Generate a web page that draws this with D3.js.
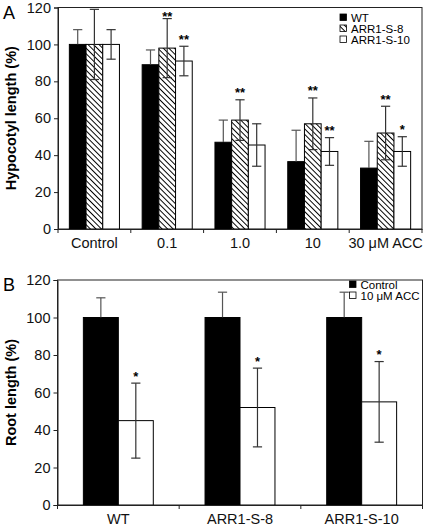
<!DOCTYPE html>
<html><head><meta charset="utf-8">
<script src="https://cdn.jsdelivr.net/npm/d3@7"></script>
<style>
html,body{margin:0;padding:0;background:#fff;}
svg{display:block;font-family:"Liberation Sans",Arial,sans-serif;}
</style></head>
<body>
<svg id="chart" width="427" height="526"></svg>
<script>
// ---- Panel A data ----
const catsA = ["Control", "0.1", "1.0", "10", "30 μM ACC"];
const seriesA = ["WT", "ARR1-S-8", "ARR1-S-10"];
const wtA   = [100, 89, 47, 36.5, 33];
const s8A   = [100, 98, 59, 57, 52];
const s10A  = [100, 91, 45.5, 42, 42];
const wtErrA  = [8, 8, 12, 17, 14.5];
const s8ErrA  = [19, 16, 11, 14, 14.5];
const s10ErrA = [8, 8, 11.5, 7.5, 8];
const wtSigA  = ["", "", "", "", ""];
const s8SigA  = ["", "**", "**", "**", "**"];
const s10SigA = ["", "**", "", "**", "*"];
const yTicks = [0, 20, 40, 60, 80, 100, 120];

// ---- Panel B data ----
const catsB = ["WT", "ARR1-S-8", "ARR1-S-10"];
const seriesB = ["Control", "10 μM ACC"];
const ctrlB = [100, 100, 100];
const accB  = [45, 52, 55];
const ctrlErrB = [10.5, 13.5, 13.5];
const accErrB  = [20, 21, 21.5];
const accSigB  = ["*", "*", "*"];

const svg = d3.select("#chart");
const defs = svg.append("defs");
const pat = defs.append("pattern").attr("id","hatch").attr("patternUnits","userSpaceOnUse")
  .attr("width",3.9).attr("height",3.9).attr("patternTransform","rotate(45)");
pat.append("rect").attr("width",3.9).attr("height",3.9).attr("fill","#fff");
pat.append("line").attr("x1",0).attr("y1",0.5).attr("x2",3.9).attr("y2",0.5)
  .attr("stroke","#000").attr("stroke-width",1);

const fills = {"WT":"#000","ARR1-S-8":"url(#hatch)","ARR1-S-10":"#fff","Control":"#000","10 μM ACC":"#fff"};
const errColor = "#555";

function panel(opts){
  const {left,right,top,bottom,cats,series,vals,errs,sigs,outerPad,ytitle,letter,legendX,legendY,legendGap} = opts;
  const g = svg.append("g");
  const y = d3.scaleLinear().domain([0,120]).range([bottom,top]);
  const x0 = d3.scaleBand().domain(cats).range([left,right]).padding(0);
  const x1 = d3.scaleBand().domain(series).range([0,x0.bandwidth()]).paddingInner(0).paddingOuter(outerPad);

  // frame
  g.append("rect").attr("x",left).attr("y",top).attr("width",right-left).attr("height",bottom-top)
    .attr("fill","none").attr("stroke","#222").attr("stroke-width",1);

  // bars
  series.forEach((s,si)=>{
    cats.forEach((c,ci)=>{
      const v = vals[si][ci];
      g.append("rect").attr("x",x0(c)+x1(s)).attr("y",y(v))
        .attr("width",x1.bandwidth()).attr("height",y(0)-y(v))
        .attr("fill",fills[s]).attr("stroke","#000").attr("stroke-width",1);
    });
  });
  // error bars + stars
  series.forEach((s,si)=>{
    cats.forEach((c,ci)=>{
      const v = vals[si][ci], e = errs[si][ci];
      const cx = x0(c)+x1(s)+x1.bandwidth()/2;
      const dark = fills[s]==="#000";
      const col = dark ? errColor : "#333";
      // upper half
      g.append("line").attr("x1",cx).attr("x2",cx).attr("y1",y(v+e)).attr("y2",y(v))
        .attr("stroke",col).attr("stroke-width",1.2);
      g.append("line").attr("x1",cx-4.6).attr("x2",cx+4.6).attr("y1",y(v+e)).attr("y2",y(v+e))
        .attr("stroke",col).attr("stroke-width",1.2);
      // lower half (invisible on black bars)
      const lc = dark ? "#000" : col;
      g.append("line").attr("x1",cx).attr("x2",cx).attr("y1",y(v)).attr("y2",y(v-e))
        .attr("stroke",lc).attr("stroke-width",1.2);
      g.append("line").attr("x1",cx-4.6).attr("x2",cx+4.6).attr("y1",y(v-e)).attr("y2",y(v-e))
        .attr("stroke",lc).attr("stroke-width",1.2);
      const sg = sigs[si][ci];
      if (sg) {
        const cy = Math.max(y(v+e)-10, top+5.5);
        g.append("text").attr("x",cx).attr("y",cy+7.5).attr("text-anchor","middle")
          .attr("font-size",13).attr("font-weight","bold").text(sg);
      }
    });
  });

  // y axis
  const ya = g.append("g").attr("transform",`translate(${left},0)`)
    .call(d3.axisLeft(y).tickValues(yTicks).tickSize(4).tickPadding(3));
  ya.selectAll("text").attr("font-size",14.5).attr("font-family","Liberation Sans, Arial").attr("fill","#111");
  ya.selectAll("line").attr("stroke","#222");
  ya.select(".domain").attr("stroke","#222");

  // x axis labels and boundary ticks
  const xa = g.append("g").attr("transform",`translate(0,${bottom})`)
    .call(d3.axisBottom(x0).tickSize(0).tickPadding(9));
  xa.selectAll("text").attr("font-size",14.5).attr("font-family","Liberation Sans, Arial").attr("fill","#111");
  xa.select(".domain").attr("stroke","#222");
  const bounds = cats.map(c=>x0(c)).concat([right]);
  g.selectAll(null).data(bounds).enter().append("line")
    .attr("x1",d=>d).attr("x2",d=>d).attr("y1",bottom).attr("y2",bottom+4)
    .attr("stroke","#222");

  // y title
  g.append("text").attr("transform",`translate(${left-42},${(top+bottom)/2}) rotate(-90)`)
    .attr("text-anchor","middle").attr("font-size",14.5).attr("font-weight","bold").text(ytitle);
  // letter
  g.append("text").attr("x",3).attr("y",top+11).attr("font-size",18).text(letter);

  // legend
  series.forEach((s,i)=>{
    const ly = legendY + i*legendGap;
    g.append("rect").attr("x",legendX).attr("y",ly-3.5).attr("width",6.5).attr("height",6.5)
      .attr("fill",fills[s]).attr("stroke","#000").attr("stroke-width",0.8);
    g.append("text").attr("x",legendX+11).attr("y",ly+4).attr("font-size",11.5).text(s);
  });
}

panel({left:58,right:422,top:7.5,bottom:229,cats:catsA,series:seriesA,
  vals:[wtA,s8A,s10A],errs:[wtErrA,s8ErrA,s10ErrA],sigs:[wtSigA,s8SigA,s10SigA],
  outerPad:0.68,ytitle:"Hypocotyl length (%)",letter:"A",legendX:340,legendY:17.5,legendGap:11});

panel({left:57.5,right:422.5,top:280,bottom:505,cats:catsB,series:seriesB,
  vals:[ctrlB,accB],errs:[ctrlErrB,accErrB],sigs:[["","",""],accSigB],
  outerPad:0.74,ytitle:"Root length (%)",letter:"B",legendX:349.5,legendY:284.5,legendGap:11});
</script>
</body></html>
